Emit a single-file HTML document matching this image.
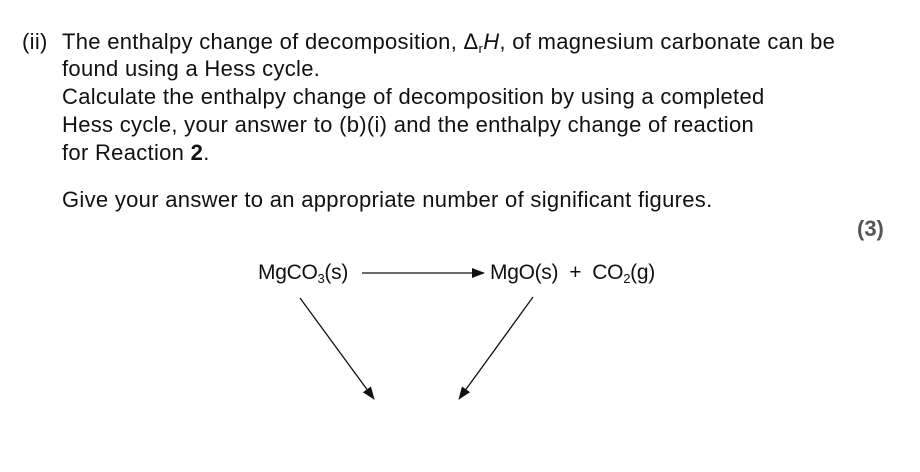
<!DOCTYPE html>
<html><head><style>
body{margin:0;width:920px;height:472px;background:#fff;position:relative;font-family:"Liberation Sans",sans-serif;color:#111;overflow:hidden}
.t{position:absolute;font-size:22px;line-height:28px;white-space:nowrap;letter-spacing:0.3px}
.d{letter-spacing:-0.3px;font-size:21px}
sub{font-size:13px;vertical-align:-4px;line-height:0}
</style></head><body>
<div class="t" style="left:22px;top:28px">(ii)</div>
<div class="t" style="left:62px;top:28px">The enthalpy change of decomposition, Δ<sub>r</sub><i>H</i>, of magnesium carbonate can be</div>
<div class="t" style="left:62px;top:55px">found using a Hess cycle.</div>
<div class="t" style="left:62px;top:83px">Calculate the enthalpy change of decomposition by using a completed</div>
<div class="t" style="left:62px;top:111px">Hess cycle, your answer to (b)(i) and the enthalpy change of reaction</div>
<div class="t" style="left:62px;top:139px">for Reaction <b>2</b>.</div>
<div class="t" style="left:62px;top:186px">Give your answer to an appropriate number of significant figures.</div>
<div class="t" style="left:857px;top:215px;font-weight:bold;color:#555;letter-spacing:0">(3)</div>
<div class="t d" style="left:258px;top:259px">MgCO<sub>3</sub>(s)</div>
<div class="t d" style="left:490px;top:259px">MgO(s) &nbsp;+ &nbsp;CO<sub>2</sub>(g)</div>
<svg width="920" height="472" style="position:absolute;left:0;top:0">
<defs><marker id="a" markerWidth="13" markerHeight="10" refX="12" refY="5" orient="auto" markerUnits="userSpaceOnUse"><path d="M0,0 L13,5 L0,10z" fill="#111"/></marker></defs>
<line x1="362" y1="273" x2="484" y2="273" stroke="#111" stroke-width="1.3" marker-end="url(#a)"/>
<line x1="300" y1="298" x2="374" y2="399" stroke="#111" stroke-width="1.3" marker-end="url(#a)"/>
<line x1="533" y1="297" x2="459" y2="399" stroke="#111" stroke-width="1.3" marker-end="url(#a)"/>
</svg>
</body></html>
